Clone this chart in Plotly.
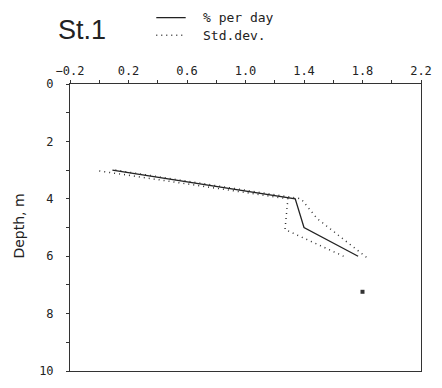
import plotly.graph_objects as go

# Data
depth_main = [3, 4, 5, 6]
pct_per_day = [0.09, 1.34, 1.40, 1.77]

depth_std_low = [3.03, 4.0, 5.07, 6.0]
std_low = [0.0, 1.29, 1.27, 1.67]

depth_std_high = [3.0, 4.0, 4.69, 6.05]
std_high = [0.11, 1.38, 1.49, 1.83]

extra_depth = [7.24]
extra_val = [1.80]

x_ticks = [-0.2, 0.2, 0.6, 1.0, 1.4, 1.8, 2.2]
x_tick_labels = ["\u22120.2", "0.2", "0.6", "1.0", "1.4", "1.8", "2.2"]
y_ticks = [0, 2, 4, 6, 8, 10]

legend_labels = ["% per day", "Std.dev."]

mono = "DejaVu Sans Mono"
ink = "#222"

fig = go.Figure()
fig.add_trace(go.Scatter(x=pct_per_day, y=depth_main, mode="lines",
                         line=dict(color=ink, width=1.3), name=legend_labels[0]))
fig.add_trace(go.Scatter(x=std_low, y=depth_std_low, mode="lines",
                         line=dict(color="#333", width=1.5, dash="1px,4px"), name=legend_labels[1]))
fig.add_trace(go.Scatter(x=std_high, y=depth_std_high, mode="lines",
                         line=dict(color="#333", width=1.5, dash="1px,4px"), name=legend_labels[1]))
fig.add_trace(go.Scatter(x=extra_val, y=extra_depth, mode="markers",
                         marker=dict(color="#333", size=4, symbol="square")))

W, H = 442, 388
L, R, T, B = 70, 14, 84, 10
pw, ph = W - L - R, H - T - B

def px(xp):
    return (xp - L) / pw

def py(yp):
    return 1 - (yp - T) / ph

shapes = [
    dict(type="line", xref="paper", yref="paper", x0=px(158), x1=px(188), y0=py(16), y1=py(16),
         line=dict(color=ink, width=1.3)),
    dict(type="line", xref="paper", yref="paper", x0=px(158), x1=px(188), y0=py(34), y1=py(34),
         line=dict(color="#333", width=1.5, dash="1px,4px")),
]

fig.update_layout(
    width=W, height=H,
    margin=dict(l=L, r=R, t=T, b=B),
    paper_bgcolor="white", plot_bgcolor="white",
    font=dict(family=mono, size=12, color=ink),
    showlegend=False,
    shapes=shapes,
    xaxis=dict(side="top", range=[-0.2, 2.2], tickvals=x_ticks, ticktext=x_tick_labels,
               showgrid=False, zeroline=False, showline=True, linecolor="#333", linewidth=1,
               mirror=True, ticks="outside", ticklen=3, tickcolor="#333",
               minor=dict(dtick=0.2, tick0=0, ticks="outside", ticklen=3, tickcolor="#333"),
               tickfont=dict(family=mono, size=12)),
    yaxis=dict(range=[10, 0], tickvals=y_ticks, showgrid=False, zeroline=False,
               showline=True, linecolor="#333", linewidth=1, mirror=True,
               ticks="outside", ticklen=3, tickcolor="#333",
               minor=dict(dtick=1, ticks="outside", ticklen=3, tickcolor="#333"),
               ticklabelstandoff=10, tickfont=dict(family=mono, size=12)),
    annotations=[
        dict(text="St.1", xref="paper", yref="paper", x=px(56), y=py(29),
             xanchor="left", yanchor="middle", showarrow=False,
             font=dict(family="Liberation Sans", size=27, color=ink)),
        dict(text=legend_labels[0], xref="paper", yref="paper", x=px(204), y=py(16),
             xanchor="left", yanchor="middle", showarrow=False,
             font=dict(family=mono, size=13, color=ink)),
        dict(text=legend_labels[1], xref="paper", yref="paper", x=px(204), y=py(34),
             xanchor="left", yanchor="middle", showarrow=False,
             font=dict(family=mono, size=13, color=ink)),
        dict(text="Depth, m", xref="paper", yref="paper", x=px(18), y=py(230),
             xanchor="center", yanchor="middle", showarrow=False, textangle=-90,
             font=dict(family="DejaVu Sans", size=14, color=ink)),
    ],
)

fig.write_html("out.html")
